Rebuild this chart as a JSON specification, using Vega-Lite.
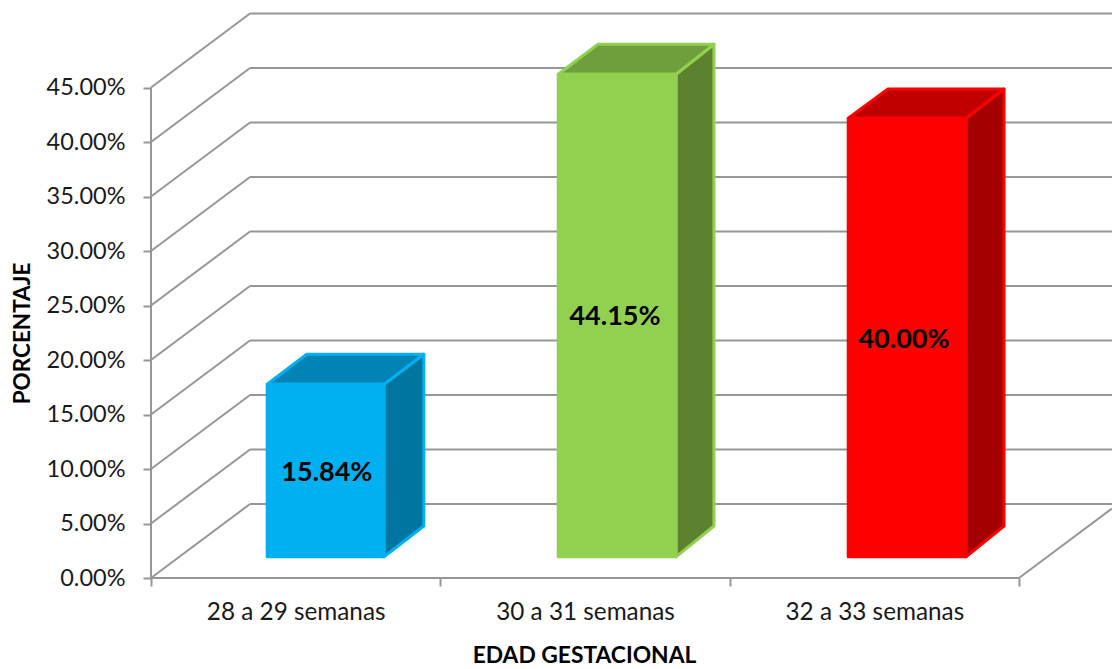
{
"$schema":"https://vega.github.io/schema/vega-lite/v6.json",
"width":961,"height":566,
"autosize":{"type":"none"},
"padding":{"left":151,"top":12,"right":0,"bottom":91},
"background":"white",
"config":{"view":{"stroke":null},"font":"Lato"},
"datasets":{
"walls":[
{"pos0":0,"pct0":0,"pos1":0.3422,"pct1":0.0679},
{"pos0":0,"pct0":0.05,"pos1":0.3422,"pct1":0.1179},
{"pos0":0,"pct0":0.10,"pos1":0.3422,"pct1":0.1679},
{"pos0":0,"pct0":0.15,"pos1":0.3422,"pct1":0.2179},
{"pos0":0,"pct0":0.20,"pos1":0.3422,"pct1":0.2679},
{"pos0":0,"pct0":0.25,"pos1":0.3422,"pct1":0.3179},
{"pos0":0,"pct0":0.30,"pos1":0.3422,"pct1":0.3679},
{"pos0":0,"pct0":0.35,"pos1":0.3422,"pct1":0.4179},
{"pos0":0,"pct0":0.40,"pos1":0.3422,"pct1":0.4679},
{"pos0":0,"pct0":0.45,"pos1":0.3422,"pct1":0.5179},
{"pos0":0.3422,"pct0":0.0679,"pos1":3.3214,"pct1":0.0679},
{"pos0":0.3422,"pct0":0.1179,"pos1":3.3214,"pct1":0.1179},
{"pos0":0.3422,"pct0":0.1679,"pos1":3.3214,"pct1":0.1679},
{"pos0":0.3422,"pct0":0.2179,"pos1":3.3214,"pct1":0.2179},
{"pos0":0.3422,"pct0":0.2679,"pos1":3.3214,"pct1":0.2679},
{"pos0":0.3422,"pct0":0.3179,"pos1":3.3214,"pct1":0.3179},
{"pos0":0.3422,"pct0":0.3679,"pos1":3.3214,"pct1":0.3679},
{"pos0":0.3422,"pct0":0.4179,"pos1":3.3214,"pct1":0.4179},
{"pos0":0.3422,"pct0":0.4679,"pos1":3.3214,"pct1":0.4679},
{"pos0":0.3422,"pct0":0.5179,"pos1":3.3214,"pct1":0.5179},
{"pos0":3,"pct0":0,"pos1":3.3214,"pct1":0.0638},
{"pos0":0,"pct0":0,"pos1":3,"pct1":0},
{"pos0":0,"pct0":0,"pos1":0,"pct1":0.45}
],
"side":[
{"semana":"28 a 29 semanas","pos":0.8053,"lo":0.01945,"hi":0.1778},
{"semana":"28 a 29 semanas","pos":0.9429,"lo":0.0477,"hi":0.2053},
{"semana":"30 a 31 semanas","pos":1.8145,"lo":0.01945,"hi":0.4622},
{"semana":"30 a 31 semanas","pos":1.9458,"lo":0.0477,"hi":0.4897},
{"semana":"32 a 33 semanas","pos":2.8168,"lo":0.01945,"hi":0.4218},
{"semana":"32 a 33 semanas","pos":2.9482,"lo":0.0477,"hi":0.4486}
],
"top":[
{"semana":"28 a 29 semanas","pct":0.1778,"left":0.4016,"right":0.8053},
{"semana":"28 a 29 semanas","pct":0.2053,"left":0.5381,"right":0.9429},
{"semana":"30 a 31 semanas","pct":0.4622,"left":1.4074,"right":1.8145},
{"semana":"30 a 31 semanas","pct":0.4897,"left":1.5449,"right":1.9458},
{"semana":"32 a 33 semanas","pct":0.4218,"left":2.4097,"right":2.8168},
{"semana":"32 a 33 semanas","pct":0.4486,"left":2.5473,"right":2.9482}
],
"front":[
{"semana":"28 a 29 semanas","valor":0.1584,"left":0.4016,"right":0.8053,"lo":0.01945,"hi":0.1778,"mid":0.0963,"center":0.6077},
{"semana":"30 a 31 semanas","valor":0.4415,"left":1.4074,"right":1.8145,"lo":0.01945,"hi":0.4622,"mid":0.2394,"center":1.6038},
{"semana":"32 a 33 semanas","valor":0.40,"left":2.4097,"right":2.8168,"lo":0.01945,"hi":0.4218,"mid":0.2183,"center":2.6025}
]
},
"resolve":{"scale":{"color":"independent","stroke":"independent"}},
"layer":[
{
"data":{"name":"walls"},
"mark":{"type":"rule","color":"#979797","strokeWidth":2},
"encoding":{
"x":{"field":"pos0","type":"quantitative","scale":{"domain":[0,3.3214],"nice":false,"zero":false},
"axis":{"values":[0,0.5,1,1.5,2,2.5,3],"title":"EDAD GESTACIONAL","grid":false,"domain":false,
"labelExpr":"datum.value==0.5?'28 a 29 semanas':datum.value==1.5?'30 a 31 semanas':datum.value==2.5?'32 a 33 semanas':''",
"labelFont":"Lato","labelFontSize":24.3,"labelColor":"#1a1a1a","labelPadding":14,"labelOverlap":false,"labelFlush":false,
"tickColor":"#979797","tickWidth":2,"tickSize":8,
"tickOpacity":{"condition":{"test":"datum.value%1==0","value":1},"value":0},
"titleFont":"Lato","titleFontSize":22.8,"titleFontWeight":"bold","titleColor":"#000000","titleX":433,"titleY":77,"titleAlign":"center","titleBaseline":"middle"}},
"x2":{"field":"pos1"},
"y":{"field":"pct0","type":"quantitative","scale":{"domain":[0,0.5193],"nice":false,"zero":false},
"axis":{"values":[0,0.05,0.10,0.15,0.20,0.25,0.30,0.35,0.40,0.45],"format":".2%","title":"PORCENTAJE","grid":false,"domain":false,
"labelFont":"Lato","labelFontSize":23.5,"labelColor":"#1a1a1a","labelPadding":18,
"tickColor":"#979797","tickWidth":2,"tickSize":8,
"titleFont":"Lato","titleFontSize":22.5,"titleFontWeight":"bold","titleColor":"#000000","titleX":-129,"titleY":321,"titleAlign":"center","titleBaseline":"middle"}},
"y2":{"field":"pct1"}
}
},
{
"data":{"name":"side"},
"mark":{"type":"area","strokeWidth":3,"strokeJoin":"round","interpolate":"linear"},
"encoding":{
"x":{"field":"pos","type":"quantitative"},
"y":{"field":"hi","type":"quantitative"},
"y2":{"field":"lo"},
"detail":{"field":"semana"},
"color":{"field":"semana","type":"nominal","legend":null,"scale":{"domain":["28 a 29 semanas","30 a 31 semanas","32 a 33 semanas"],"range":["#00759F","#5C8230","#A50000"]}},
"stroke":{"field":"semana","type":"nominal","legend":null,"scale":{"domain":["28 a 29 semanas","30 a 31 semanas","32 a 33 semanas"],"range":["#00B0F0","#92D050","#FF0000"]}}
}
},
{
"data":{"name":"top"},
"mark":{"type":"area","orient":"horizontal","strokeWidth":3,"strokeJoin":"round","interpolate":"linear"},
"encoding":{
"y":{"field":"pct","type":"quantitative"},
"x":{"field":"left","type":"quantitative"},
"x2":{"field":"right"},
"detail":{"field":"semana"},
"color":{"field":"semana","type":"nominal","legend":null,"scale":{"domain":["28 a 29 semanas","30 a 31 semanas","32 a 33 semanas"],"range":["#0084B5","#6F9E3D","#C00000"]}},
"stroke":{"field":"semana","type":"nominal","legend":null,"scale":{"domain":["28 a 29 semanas","30 a 31 semanas","32 a 33 semanas"],"range":["#00B0F0","#92D050","#FF0000"]}}
}
},
{
"data":{"name":"front"},
"mark":{"type":"rect","strokeWidth":3,"strokeJoin":"round"},
"encoding":{
"x":{"field":"left","type":"quantitative"},
"x2":{"field":"right"},
"y":{"field":"hi","type":"quantitative"},
"y2":{"field":"lo"},
"color":{"field":"semana","type":"nominal","legend":null,"scale":{"domain":["28 a 29 semanas","30 a 31 semanas","32 a 33 semanas"],"range":["#00B0F0","#92D050","#FF0000"]}},
"stroke":{"field":"semana","type":"nominal","legend":null,"scale":{"domain":["28 a 29 semanas","30 a 31 semanas","32 a 33 semanas"],"range":["#00B0F0","#92D050","#FF0000"]}}
}
},
{
"data":{"name":"front"},
"mark":{"type":"text","font":"Lato","fontSize":27,"fontWeight":"bold","color":"#000000","align":"center","baseline":"middle"},
"encoding":{
"x":{"field":"center","type":"quantitative"},
"y":{"field":"mid","type":"quantitative"},
"text":{"field":"valor","type":"quantitative","format":".2%"}
}
}
]
}
